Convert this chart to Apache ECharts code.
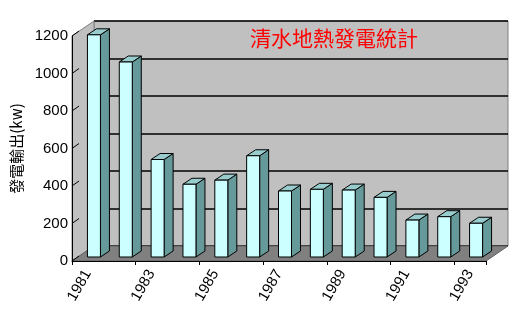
<!DOCTYPE html>
<html><head><meta charset="utf-8">
<script src="https://cdn.jsdelivr.net/npm/echarts@6/dist/echarts.min.js"></script>
<style>html,body{margin:0;padding:0;background:#fff}#c{width:520px;height:317px}</style>
</head><body><div id="c"></div>
<script>
const years = ['1981','1982','1983','1984','1985','1986','1987','1988','1989','1990','1991','1992','1993'];
const output = [1185, 1040, 520, 388, 410, 540, 352, 361, 357, 318, 197, 215, 180];
const yTicks = [0, 200, 400, 600, 800, 1000, 1200];
const titleText = '清水地熱發電統計';
const yName = '發電輸出(kw)';

const DEPTH = [22, -15];
const BAR_SHIFT = [6, -4];
const BAR_W = 13;
const BAR_SIDE = [9, -6];

const chart = echarts.init(document.getElementById('c'), null, {renderer: 'canvas'});
chart.setOption({
  animation: false,
  backgroundColor: '#fff',
  title: {
    text: titleText, left: 245, top: 23,
    textStyle: {color: '#ff0000', fontSize: 21, fontWeight: 'normal', fontFamily: '"Noto Sans CJK TC"'}
  },
  grid: [
    {left: 72, right: 34, top: 36, bottom: 56, show: false},
    {left: 94, right: 12, top: 21, bottom: 71, show: true, backgroundColor: '#c0c0c0', borderColor: '#808080', borderWidth: 1}
  ],
  xAxis: [
    {type: 'category', gridIndex: 0, data: years, z: 5,
      axisLine: {show: true, lineStyle: {color: '#000', width: 1}},
      axisTick: {show: true, length: 4, lineStyle: {color: '#000'}},
      axisLabel: {interval: 1, rotate: 60, margin: 10, fontSize: 15, color: '#000', fontFamily: '"Liberation Sans", Arial'}},
    {type: 'category', gridIndex: 1, data: years, show: false}
  ],
  yAxis: [
    {type: 'value', gridIndex: 0, min: 0, max: 1200, interval: 200, z: 5,
      name: yName, nameLocation: 'middle', nameGap: 40, nameRotate: 90,
      nameTextStyle: {fontSize: 15, color: '#000', fontFamily: '"Noto Sans CJK TC"'},
      axisLine: {show: true, lineStyle: {color: '#000', width: 1}},
      axisTick: {show: false},
      splitLine: {show: false},
      axisLabel: {margin: 4, fontSize: 15, color: '#000', fontFamily: '"Liberation Sans", Arial',
        formatter: function (v) { return String(v); }}},
    {type: 'value', gridIndex: 1, min: 0, max: 1200, interval: 200,
      axisLine: {show: false}, axisTick: {show: false}, axisLabel: {show: false},
      splitLine: {show: true, lineStyle: {color: '#000', width: 1.5}}}
  ],
  series: [
    {
      type: 'custom', xAxisIndex: 0, yAxisIndex: 0, z: 1, clip: false, silent: true,
      data: [0],
      renderItem: function (params, api) {
        const bw = api.size([1, 0])[0];
        const a = api.coord([0, 0]);
        const b = api.coord([years.length - 1, 0]);
        const t = api.coord([0, yTicks[yTicks.length - 1]]);
        const xl = a[0] - bw / 2, xr = b[0] + bw / 2, y0 = a[1], y1 = t[1];
        const children = [
          {type: 'polygon', shape: {points: [[xl, y0], [xl, y1], [xl + DEPTH[0], y1 + DEPTH[1]], [xl + DEPTH[0], y0 + DEPTH[1]]]},
            style: {fill: '#c0c0c0', stroke: '#808080', lineWidth: 1}},
          {type: 'polygon', shape: {points: [[xl, y0], [xr, y0], [xr + DEPTH[0], y0 + DEPTH[1]], [xl + DEPTH[0], y0 + DEPTH[1]]]},
            style: {fill: '#808080', stroke: '#606060', lineWidth: 1}}
        ];
        yTicks.forEach(function (v) {
          const p = api.coord([0, v]);
          children.push({type: 'line', shape: {x1: xl, y1: p[1], x2: xl + 7, y2: p[1] - 5},
            style: {stroke: '#000', lineWidth: 1}});
        });
        return {type: 'group', children: children};
      }
    },
    {
      type: 'custom', xAxisIndex: 0, yAxisIndex: 0, z: 3, clip: false,
      data: output.map(function (v, i) { return [i, v]; }),
      encode: {x: 0, y: 1},
      renderItem: function (params, api) {
        const i = api.value(0), v = api.value(1);
        const p0 = api.coord([i, 0]);
        const p1 = api.coord([i, v]);
        const xl = p0[0] + BAR_SHIFT[0] - BAR_W / 2, xr = xl + BAR_W;
        const yb = p0[1] + BAR_SHIFT[1], yt = p1[1] + BAR_SHIFT[1];
        const sx = BAR_SIDE[0], sy = BAR_SIDE[1];
        const st = {stroke: '#000', lineWidth: 1};
        return {type: 'group', children: [
          {type: 'polygon', shape: {points: [[xr, yb], [xr + sx, yb + sy], [xr + sx, yt + sy], [xr, yt]]},
            style: Object.assign({fill: '#669999'}, st)},
          {type: 'polygon', shape: {points: [[xl, yt], [xl + sx, yt + sy], [xr + sx, yt + sy], [xr, yt]]},
            style: Object.assign({fill: '#99cccc'}, st)},
          {type: 'rect', shape: {x: xl, y: yt, width: BAR_W, height: yb - yt},
            style: Object.assign({fill: '#ccffff'}, st)}
        ]};
      }
    }
  ]
});
</script></body></html>
